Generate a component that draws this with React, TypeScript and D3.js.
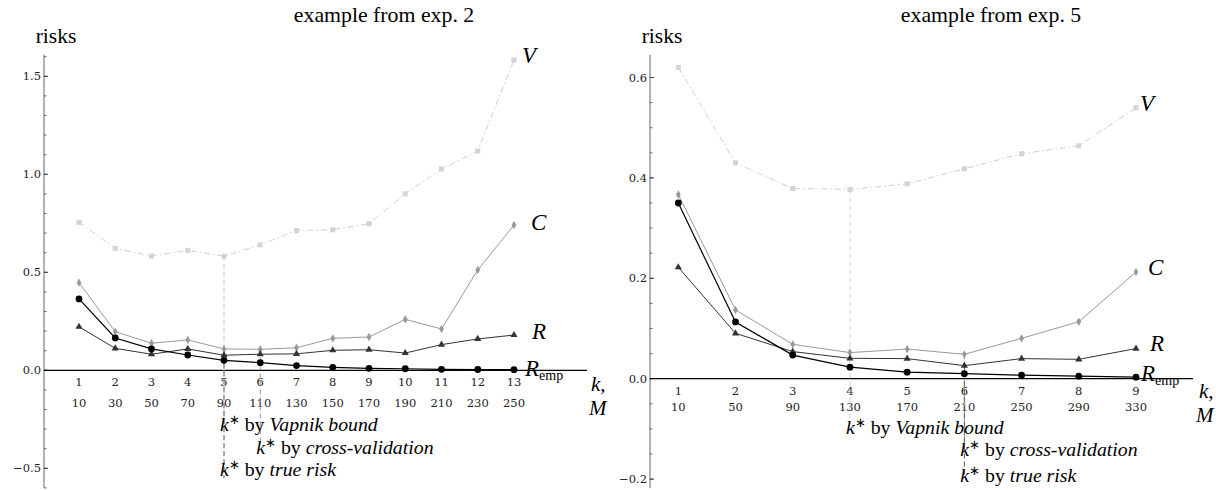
import React from 'react';
import * as d3 from 'd3';

// ---------- data: left panel (exp. 2) ----------
const kLeft = [1, 2, 3, 4, 5, 6, 7, 8, 9, 10, 11, 12, 13];
const mLeft = [10, 30, 50, 70, 90, 110, 130, 150, 170, 190, 210, 230, 250];
const vLeft = [0.755, 0.622, 0.583, 0.612, 0.582, 0.64, 0.713, 0.717, 0.748, 0.9, 1.027, 1.119, 1.583];
const cLeft = [0.447, 0.197, 0.138, 0.155, 0.109, 0.107, 0.115, 0.163, 0.17, 0.26, 0.211, 0.512, 0.741];
const rLeft = [0.222, 0.112, 0.082, 0.109, 0.077, 0.082, 0.084, 0.102, 0.105, 0.088, 0.131, 0.16, 0.18];
const eLeft = [0.364, 0.165, 0.109, 0.078, 0.051, 0.039, 0.024, 0.015, 0.01, 0.008, 0.005, 0.004, 0.003];
const yMajorLeft = [-0.5, 0, 0.5, 1.0, 1.5];

// ---------- data: right panel (exp. 5) ----------
const kRight = [1, 2, 3, 4, 5, 6, 7, 8, 9];
const mRight = [10, 50, 90, 130, 170, 210, 250, 290, 330];
const vRight = [0.62, 0.43, 0.379, 0.377, 0.388, 0.418, 0.448, 0.464, 0.54];
const cRight = [0.367, 0.137, 0.0685, 0.052, 0.059, 0.0486, 0.0805, 0.1135, 0.2125];
const rRight = [0.222, 0.0904, 0.054, 0.0406, 0.04, 0.026, 0.04, 0.0386, 0.06];
const eRight = [0.35, 0.113, 0.047, 0.023, 0.013, 0.01, 0.007, 0.005, 0.003];
const yMajorRight = [-0.2, 0, 0.2, 0.4, 0.6];

const SERIF = { fontFamily: 'Liberation Serif' };
const TICKF = { fontFamily: 'DejaVu Serif' };

const fmt = (v: number) => (v < 0 ? '\u2212' : '') + Math.abs(v).toFixed(1);

type PanelProps = {
  title: string;
  titleX: number;
  ks: number[];
  ms: number[];
  V: number[];
  C: number[];
  R: number[];
  E: number[];
  xRange: [number, number];
  axisX: number;
  axisEndX: number;
  y0: number;
  pxPerUnit: number;
  yDom: [number, number];
  majors: number[];
  minorStep: number;
  kOff: number;
  mOff: number;
  kVap: number;
  kCV: number;
  kTrue: number;
  vapEnd: number;
  cvEnd: number;
  trueEnd: number;
  vapText: number;
  cvText: number;
  trueText: number;
  lbl: { v: [number, number]; c: [number, number]; r: [number, number]; e: [number, number] };
  kLabel: [number, number];
  mLabel: [number, number];
};

function Panel(p: PanelProps) {
  const x = d3.scaleLinear().domain([p.ks[0], p.ks[p.ks.length - 1]]).range(p.xRange);
  const y = d3.scaleLinear().domain([0, 1]).range([p.y0, p.y0 - p.pxPerUnit]);
  const line = (vals: number[]) =>
    d3.line<number>().x((_, i) => x(p.ks[i])).y((d) => y(d))(vals) || '';
  const sq = d3.symbol().type(d3.symbolSquare).size(26)() || '';
  const di = d3.symbol().type(d3.symbolDiamond).size(20)() || '';
  const tr = d3.symbol().type(d3.symbolTriangle).size(22)() || '';

  const minors: number[] = [];
  const nMin = Math.ceil(p.yDom[0] / p.minorStep - 1e-9);
  const nMax = Math.floor(p.yDom[1] / p.minorStep + 1e-9);
  for (let i = nMin; i <= nMax; i++) minors.push(i * p.minorStep);

  const n = p.ks.length - 1;
  const ann = (kx: number, yy: number, word: string) => (
    <text x={x(kx) - 4} y={yy} style={SERIF} fontSize={19.8} fill="#000">
      <tspan fontStyle="italic">k</tspan>
      <tspan fontSize={13} dy={-7}>∗</tspan>
      <tspan dy={7}> by </tspan>
      <tspan fontStyle="italic">{word}</tspan>
    </text>
  );

  return (
    <g>
      <text x={p.titleX} y={22} textAnchor="middle" style={SERIF} fontSize={21.8}>
        {p.title}
      </text>
      <text x={p.axisX + 12} y={43} textAnchor="middle" style={SERIF} fontSize={21.5}>
        risks
      </text>

      {/* y axis */}
      <line x1={p.axisX} x2={p.axisX} y1={y(p.yDom[0])} y2={y(p.yDom[1])} stroke="#666" strokeWidth={1} />
      {minors.map((m, i) => (
        <line key={'mn' + i} x1={p.axisX} x2={p.axisX + 2.5} y1={y(m)} y2={y(m)} stroke="#444" strokeWidth={0.8} />
      ))}
      {p.majors.map((m, i) => (
        <g key={'mj' + i}>
          <line x1={p.axisX} x2={p.axisX + 4} y1={y(m)} y2={y(m)} stroke="#333" strokeWidth={1} />
          <text x={p.axisX - 3} y={y(m)} dy="0.35em" textAnchor="end" style={TICKF} fontSize={11.5} fill="#222">
            {fmt(m)}
          </text>
        </g>
      ))}

      {/* x axis */}
      <line x1={p.axisX} x2={p.axisEndX} y1={y(0)} y2={y(0)} stroke="#000" strokeWidth={1.3} />
      {p.ks.map((k, i) => (
        <g key={'xt' + i}>
          <text x={x(k)} y={y(0) + p.kOff} textAnchor="middle" style={TICKF} fontSize={11.5} fill="#222">
            {k}
          </text>
          <text x={x(k)} y={y(0) + p.mOff} textAnchor="middle" style={TICKF} fontSize={11.5} fill="#222">
            {p.ms[i]}
          </text>
        </g>
      ))}
      <text x={p.kLabel[0]} y={y(0) + p.kLabel[1]} style={SERIF} fontStyle="italic" fontSize={21}>
        k,
      </text>
      <text x={p.mLabel[0]} y={y(0) + p.mLabel[1]} style={SERIF} fontStyle="italic" fontSize={21}>
        M
      </text>

      {/* k* dashed lines */}
      <line x1={x(p.kVap)} x2={x(p.kVap)} y1={y(p.V[p.kVap - 1])} y2={y(0) + p.vapEnd} stroke="#ccc" strokeWidth={1} strokeDasharray="5,3" />
      <line x1={x(p.kCV)} x2={x(p.kCV)} y1={y(p.C[p.kCV - 1])} y2={y(0) + p.cvEnd} stroke="#999" strokeWidth={1} strokeDasharray="5,3" />
      <line x1={x(p.kTrue)} x2={x(p.kTrue)} y1={y(p.R[p.kTrue - 1])} y2={y(0) + p.trueEnd} stroke="#555" strokeWidth={1} strokeDasharray="5,3" />

      {/* V */}
      <path d={line(p.V)} fill="none" stroke="#cfcfcf" strokeWidth={1} strokeDasharray="6,3,1.5,3" />
      {p.V.map((v, i) => (
        <path key={'v' + i} d={sq} transform={`translate(${x(p.ks[i])},${y(v)})`} fill="#d4d4d4" />
      ))}
      {/* C */}
      <path d={line(p.C)} fill="none" stroke="#999" strokeWidth={1} />
      {p.C.map((v, i) => (
        <path key={'c' + i} d={di} transform={`translate(${x(p.ks[i])},${y(v)})`} fill="#999" />
      ))}
      {/* R */}
      <path d={line(p.R)} fill="none" stroke="#333" strokeWidth={1} />
      {p.R.map((v, i) => (
        <path key={'r' + i} d={tr} transform={`translate(${x(p.ks[i])},${y(v)})`} fill="#333" />
      ))}
      {/* R_emp */}
      <path d={line(p.E)} fill="none" stroke="#000" strokeWidth={1.2} />
      {p.E.map((v, i) => (
        <circle key={'e' + i} cx={x(p.ks[i])} cy={y(v)} r={3.4} fill="#000" />
      ))}

      {/* series labels */}
      <text x={x(p.ks[n]) + p.lbl.v[0]} y={y(p.V[n]) + p.lbl.v[1]} style={SERIF} fontStyle="italic" fontSize={23}>V</text>
      <text x={x(p.ks[n]) + p.lbl.c[0]} y={y(p.C[n]) + p.lbl.c[1]} style={SERIF} fontStyle="italic" fontSize={23}>C</text>
      <text x={x(p.ks[n]) + p.lbl.r[0]} y={y(p.R[n]) + p.lbl.r[1]} style={SERIF} fontStyle="italic" fontSize={23}>R</text>
      <text x={x(p.ks[n]) + p.lbl.e[0]} y={y(p.E[n]) + p.lbl.e[1]} style={SERIF} fontSize={23}>
        <tspan fontStyle="italic">R</tspan>
        <tspan fontSize={14} dy={4}>emp</tspan>
      </text>

      {/* annotations */}
      {ann(p.kVap, y(0) + p.vapText, 'Vapnik bound')}
      {ann(p.kCV, y(0) + p.cvText, 'cross-validation')}
      {ann(p.kTrue, y(0) + p.trueText, 'true risk')}
    </g>
  );
}

export default function App() {
  return (
    <svg width={1216} height={490} style={{ position: 'absolute', left: 0, top: 0, background: '#fff' }}>
      <Panel
        title="example from exp. 2"
        titleX={384}
        ks={kLeft}
        ms={mLeft}
        V={vLeft}
        C={cLeft}
        R={rLeft}
        E={eLeft}
        xRange={[79, 514]}
        axisX={44}
        axisEndX={587}
        y0={370.3}
        pxPerUnit={196}
        yDom={[-0.6, 1.61]}
        majors={yMajorLeft}
        minorStep={0.1}
        kOff={16}
        mOff={37}
        kVap={5}
        kCV={6}
        kTrue={5}
        vapEnd={48}
        cvEnd={72}
        trueEnd={108}
        vapText={61}
        cvText={84}
        trueText={106}
        lbl={{ v: [8, 3], c: [17, 5], r: [18, 4], e: [11, 6] }}
        kLabel={[591, 21]}
        mLabel={[589, 45]}
      />
      <Panel
        title="example from exp. 5"
        titleX={991}
        ks={kRight}
        ms={mRight}
        V={vRight}
        C={cRight}
        R={rRight}
        E={eRight}
        xRange={[678.3, 1136]}
        axisX={650}
        axisEndX={1193}
        y0={378.7}
        pxPerUnit={502}
        yDom={[-0.218, 0.645]}
        majors={yMajorRight}
        minorStep={0.05}
        kOff={16}
        mOff={32}
        kVap={4}
        kCV={6}
        kTrue={6}
        vapEnd={44}
        cvEnd={70}
        trueEnd={98}
        vapText={55}
        cvText={77}
        trueText={103}
        lbl={{ v: [4, 3], c: [12, 3], r: [14, 2], e: [5, 4] }}
        kLabel={[1199, 19]}
        mLabel={[1196, 43]}
      />
    </svg>
  );
}
